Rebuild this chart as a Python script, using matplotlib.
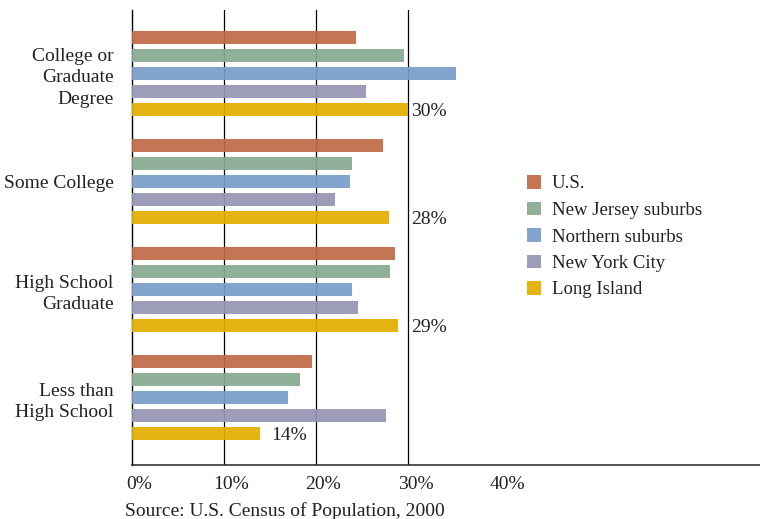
import numpy as np
import matplotlib.pyplot as plt
import matplotlib.transforms as mtransforms

plt.rcParams['font.family'] = ['Liberation Serif', 'DejaVu Serif']

categories = ['College or\nGraduate\nDegree', 'Some College',
              'High School\nGraduate', 'Less than\nHigh School']
series = ['U.S.', 'New Jersey suburbs', 'Northern suburbs',
          'New York City', 'Long Island']

# percent of adults by education level
us = [24.4, 27.3, 28.6, 19.6]
nj_suburbs = [29.6, 24.0, 28.1, 18.3]
northern_suburbs = [35.3, 23.7, 24.0, 17.0]
nyc = [25.5, 22.1, 24.6, 27.7]
long_island = [30, 28, 29, 14]

colors = ['#bf6a47', '#88aa93', '#7a9dc8', '#9695b4', '#e3ad00']
xticks = [0, 10, 20, 30, 40]
xtick_labels = ['0%', '10%', '20%', '30%', '40%']
source = 'Source: U.S. Census of Population, 2000'

values = [us, nj_suburbs, northern_suburbs, nyc, long_island]

fig = plt.figure(figsize=(7.6, 5.19), dpi=100)
ax = fig.add_axes([131.5 / 760, 1 - 465 / 519, 1 - 131.5 / 760, (465 - 10) / 519])

n_series = len(series)
slot = n_series + 1
group_pos = np.arange(len(categories)) * slot

for i, (name, vals, c) in enumerate(zip(series, values, colors)):
    ax.barh(group_pos + i, vals, height=0.7, color=c, alpha=0.93,
            label=name, zorder=3)

for x in xticks[1:4]:
    ax.axvline(x, color='black', lw=0.9, zorder=2)

# value labels for Long Island
for g, v in zip(group_pos, long_island):
    y = g + n_series - 1
    if v >= 25:
        x, dx = 30, 4
    else:
        x, dx = v, 11
    off = mtransforms.offset_copy(ax.transData, fig=fig, x=dx, y=-2, units='dots')
    ax.text(x, y, f'{v}%', transform=off, ha='left', va='center',
            fontsize=14, color='#222222')

ax.set_xlim(0, (760 - 131.5) / 9.2)
ax.set_ylim(22 + (465 - 433.5) / 18, -(37.5 - 10) / 18)

ax.set_yticks(group_pos + (n_series - 1) / 2)
ax.set_yticklabels(categories, fontsize=14, color='#222222', linespacing=1.38)
ax.tick_params(axis='y', length=0, pad=13)

ax.set_xticks(xticks)
ax.set_xticklabels(xtick_labels, fontsize=14, color='#222222')
ax.tick_params(axis='x', length=0, pad=8)
shift = mtransforms.ScaledTranslation(8 / 100, 0, fig.dpi_scale_trans)
for lab in ax.get_xticklabels():
    lab.set_transform(lab.get_transform() + shift)

for s in ['top', 'right']:
    ax.spines[s].set_visible(False)
ax.spines['left'].set_color('black')
ax.spines['left'].set_linewidth(1.0)
ax.spines['bottom'].set_color('#333333')
ax.spines['bottom'].set_linewidth(1.2)

leg = ax.legend(loc='upper left', bbox_to_anchor=(518 / 760, 1 - 166 / 519),
                bbox_transform=fig.transFigure, frameon=False, fontsize=13.5,
                handlelength=0.7, handleheight=0.7, handletextpad=0.6,
                labelspacing=0.5, borderpad=0)
for t in leg.get_texts():
    t.set_color('#222222')

fig.text(125 / 760, 3 / 519, source, ha='left', va='baseline',
         fontsize=14, color='#222222')

fig.savefig('out.png', dpi=100)
